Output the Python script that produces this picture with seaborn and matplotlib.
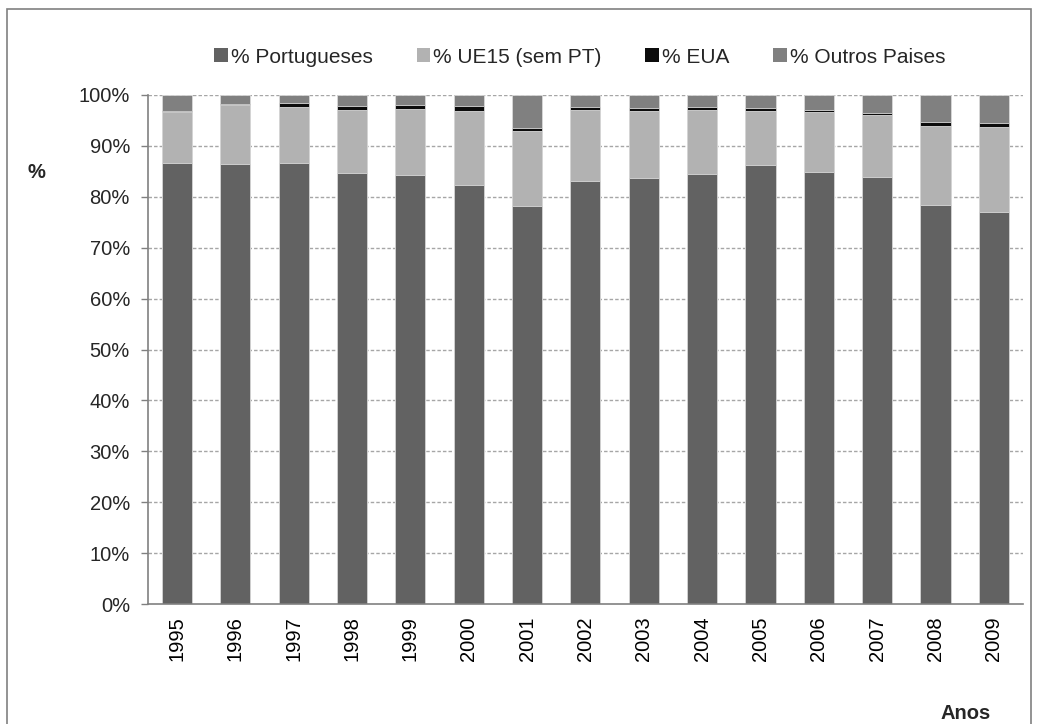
import matplotlib
matplotlib.use("Agg")
import matplotlib.pyplot as plt
import numpy as np
import pandas as pd
import seaborn as sns
from matplotlib.patches import Rectangle
from matplotlib.ticker import PercentFormatter

years = ["1995", "1996", "1997", "1998", "1999", "2000", "2001", "2002",
         "2003", "2004", "2005", "2006", "2007", "2008", "2009"]
pct_portugueses = [86.7, 86.4, 86.6, 84.6, 84.3, 82.4, 78.1, 83.1, 83.7, 84.5, 86.2, 84.9, 83.9, 78.4, 77.1]
pct_ue15 = [9.9, 11.6, 11.1, 12.5, 13.0, 14.5, 14.9, 13.9, 13.2, 12.6, 10.7, 11.7, 12.1, 15.5, 16.6]
pct_eua = [0.3, 0.3, 0.65, 0.7, 0.65, 1.0, 0.6, 0.7, 0.6, 0.45, 0.45, 0.5, 0.45, 0.8, 0.85]
pct_outros = [3.1, 1.7, 1.65, 2.2, 2.05, 2.1, 6.4, 2.3, 2.5, 2.45, 2.65, 2.9, 3.55, 5.3, 5.45]

series_names = ["% Portugueses", "% UE15 (sem PT)", "% EUA", "% Outros Paises"]
colors = ["#626262", "#b2b2b2", "#0c0c0c", "#808080"]

sns.set_theme(style="white")
plt.rcParams["font.family"] = ["Liberation Sans", "DejaVu Sans"]

df = pd.DataFrame({
    "Ano": years,
    "pt": pct_portugueses,
    "ue": pct_ue15,
    "eua": pct_eua,
    "outros": pct_outros,
})
# cumulative tops, drawn from the tallest layer down
df["c1"] = df["pt"]
df["c2"] = df["c1"] + df["ue"]
df["c3"] = df["c2"] + df["eua"]
df["c4"] = df["c3"] + df["outros"]

fig = plt.figure(figsize=(10.39, 7.24), dpi=100)
ax = fig.add_axes([0.1424, 0.1657, 0.8422, 0.7031])

for col, color in zip(["c4", "c3", "c2", "c1"], colors[::-1]):
    sns.barplot(data=df, x="Ano", y=col, color=color, ax=ax, width=0.515,
                saturation=1, edgecolor="#d9d9d9", linewidth=0.6, zorder=3)

ax.set_ylim(0, 100)
ax.set_yticks(np.arange(0, 101, 10))
ax.yaxis.set_major_formatter(PercentFormatter(decimals=0))
ax.set_xlim(-0.5, len(years) - 0.5)
ax.set_xlabel("")
ax.set_ylabel("")
ax.tick_params(axis="x", rotation=90, labelsize=14.5, length=0, pad=9, colors="black")
ax.tick_params(axis="y", labelsize=14.5, length=5, width=1, color="#808080",
               direction="out", left=True, pad=8)

for y in np.arange(10, 101, 10):
    ax.axhline(y, color="#a6a6a6", linewidth=1, linestyle=(0, (2.5, 1.5)), zorder=1)

for side in ["top", "right"]:
    ax.spines[side].set_visible(False)
for side in ["left", "bottom"]:
    ax.spines[side].set_color("#808080")
    ax.spines[side].set_linewidth(1.2)
    ax.spines[side].set_zorder(4)

handles = [Rectangle((0, 0), 1, 1, facecolor=c, edgecolor="none") for c in colors]
fig.legend(handles, series_names, loc="center", bbox_to_anchor=(0.558, 0.921),
           ncol=4, frameon=False, fontsize=15, handlelength=0.65, handleheight=0.65,
           handletextpad=0.15, columnspacing=2.1)

fig.text(0.035, 0.762, "%", fontsize=14.5, fontweight="bold", ha="center", va="center")
fig.text(0.929, 0.014, "Anos", fontsize=14.5, fontweight="bold", ha="center", va="center")

frame = Rectangle((0.007, -0.05), 0.985, 1.038, transform=fig.transFigure,
                  fill=False, edgecolor="#808080", linewidth=1.2)
fig.patches.append(frame)

fig.savefig("out.png", dpi=100)
